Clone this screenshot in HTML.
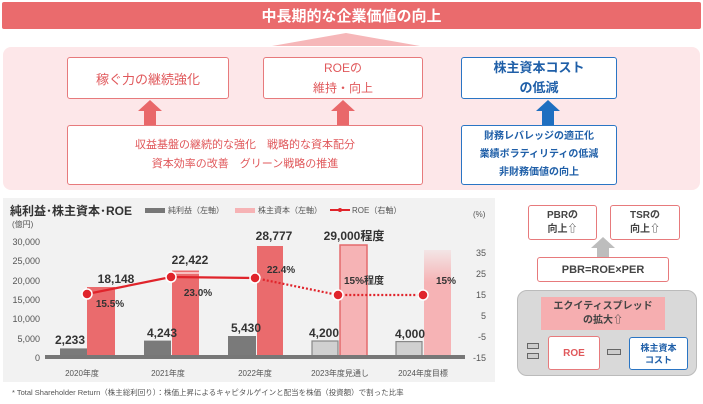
<!DOCTYPE html>
<html><head><meta charset="utf-8"><style>
body{margin:0;width:703px;height:404px;background:#fff;position:relative;overflow:hidden;font-family:"Liberation Sans","Noto Sans CJK JP",sans-serif}
.a{position:absolute;box-sizing:border-box}
.c{display:flex;align-items:center;justify-content:center;text-align:center;flex-direction:column}
.rb{border:1.5px solid #e77a7c;background:#fff;border-radius:3px;color:#e0585b}
.bb{border:1.5px solid #2a75c4;background:#fff;border-radius:3px;color:#1f5fa8;font-weight:bold}
</style></head><body>
<div class="a c" style="left:2px;top:2px;width:699px;height:27px;background:#ea6b6d;color:#fff;font-weight:bold;font-size:15px;border-radius:2px">中長期的な企業価値の向上</div>
<svg class="a" style="left:0;top:0" width="703" height="404">
<polygon points="272,46 346,33 420,46" fill="#f6b7b9"/>
</svg>
<div class="a" style="left:3px;top:47px;width:697px;height:143px;background:#fde7e9;border-radius:8px"></div>
<div class="a c rb" style="left:67px;top:57px;width:162px;height:42px;font-size:13px">稼ぐ力の継続強化</div>
<div class="a c rb" style="left:263px;top:57px;width:160px;height:42px;font-size:12px;line-height:20px">ROEの<br>維持・向上</div>
<div class="a c bb" style="left:461px;top:57px;width:156px;height:42px;font-size:13px;line-height:20px">株主資本コスト<br>の低減</div>
<svg class="a" style="left:0;top:0" width="703" height="404">
<polygon points="144,125 144,111 138,111 150,100 162,111 156,111 156,125" fill="#e9686a"/>
<polygon points="337,125 337,111 331,111 343,100 355,111 349,111 349,125" fill="#e9686a"/>
<polygon points="542,125 542,111 536,111 548,100 560,111 554,111 554,125" fill="#1f6fc0"/>
</svg>
<div class="a c rb" style="left:67px;top:125px;width:356px;height:60px;font-size:11px;line-height:19px">収益基盤の継続的な強化　戦略的な資本配分<br>資本効率の改善　グリーン戦略の推進</div>
<div class="a c bb" style="left:461px;top:125px;width:156px;height:60px;font-size:10px;line-height:18px">財務レバレッジの適正化<br>業績ボラティリティの低減<br>非財務価値の向上</div>

<div class="a" style="left:3px;top:198px;width:492px;height:184px;background:#f2f2f2"></div>
<svg class="a" style="left:0;top:0" width="703" height="404" font-family="Liberation Sans,Noto Sans CJK JP,sans-serif">
<defs><linearGradient id="g" x1="0" y1="0" x2="0" y2="1"><stop offset="0" stop-color="#f6b3b5" stop-opacity="0.2"/><stop offset="0.3" stop-color="#f6b3b5"/><stop offset="1" stop-color="#f6b3b5"/></linearGradient></defs>
<text x="10" y="215" font-size="12" font-weight="bold" fill="#333">純利益･株主資本･ROE</text>
<text x="12" y="227" font-size="8" fill="#555">(億円)</text>
<text x="473" y="217" font-size="8" fill="#555">(%)</text>
<rect x="145" y="208" width="20" height="5" fill="#777"/><text x="168" y="213" font-size="8" fill="#555">純利益（左軸）</text>
<rect x="235" y="208" width="20" height="5" fill="#f6b3b5"/><text x="258" y="213" font-size="8" fill="#555">株主資本（左軸）</text>
<line x1="330" y1="210" x2="350" y2="210" stroke="#e0242b" stroke-width="2"/><circle cx="340" cy="210" r="2" fill="#e0242b"/><text x="352" y="213" font-size="8" fill="#555">ROE（右軸）</text>
<g font-size="9" fill="#555" text-anchor="end">
<text x="40" y="245">30,000</text><text x="40" y="264">25,000</text><text x="40" y="284">20,000</text><text x="40" y="303">15,000</text><text x="40" y="322">10,000</text><text x="40" y="342">5,000</text><text x="40" y="361">0</text></g>
<g font-size="9" fill="#555" text-anchor="end">
<text x="486" y="256">35</text><text x="486" y="277">25</text><text x="486" y="298">15</text><text x="486" y="319">5</text><text x="486" y="340">-5</text><text x="486" y="361">-15</text></g>
<rect x="60" y="348.4" width="27" height="8.6" fill="#7a7a7a"/>
<rect x="87" y="287" width="28" height="70" fill="#ea6b6d"/>
<rect x="144" y="340.6" width="27" height="16.4" fill="#7a7a7a"/>
<rect x="172" y="270.5" width="27" height="86.5" fill="#ea6b6d"/>
<rect x="172" y="272" width="27" height="2" fill="#f8c0c0"/>
<rect x="228" y="336" width="28" height="21" fill="#7a7a7a"/>
<rect x="257" y="246" width="26" height="111" fill="#ea6b6d"/>
<rect x="312" y="341" width="26" height="16" fill="#d0d0d0" stroke="#888" stroke-width="1.2"/>
<rect x="340" y="245" width="27" height="112" fill="#f6b3b5" stroke="#e46b6d" stroke-width="1.5"/>
<rect x="396" y="341.6" width="26" height="15.4" fill="#d0d0d0" stroke="#888" stroke-width="1.2"/>
<rect x="424" y="250" width="27" height="107" fill="url(#g)"/>
<rect x="45" y="355" width="420" height="4" fill="#777"/>
<polyline points="87,294 171,277 255,278" fill="none" stroke="#e0242b" stroke-width="2.2"/>
<polyline points="255,278 338,295 423,295" fill="none" stroke="#e0242b" stroke-width="2.2" stroke-dasharray="2,2"/>
<g fill="#e0242b" stroke="#fff" stroke-width="1.5"><circle cx="87" cy="294" r="5"/><circle cx="171" cy="277" r="5"/><circle cx="255" cy="278" r="5"/><circle cx="338" cy="295" r="5"/><circle cx="423" cy="295" r="5"/></g>
<g font-size="12" font-weight="bold" fill="#333" text-anchor="middle">
<text x="70" y="344">2,233</text><text x="116" y="283">18,148</text><text x="162" y="337">4,243</text><text x="190" y="264">22,422</text>
<text x="246" y="332">5,430</text><text x="274" y="240">28,777</text><text x="324" y="337">4,200</text><text x="354" y="240">29,000程度</text><text x="410" y="338">4,000</text></g>
<g font-size="10" font-weight="bold" fill="#333" text-anchor="middle">
<text x="110" y="307">15.5%</text><text x="198" y="296">23.0%</text><text x="281" y="273">22.4%</text><text x="364" y="284">15%程度</text><text x="446" y="284">15%</text></g>
<g font-size="8" fill="#555" text-anchor="middle">
<text x="82" y="376">2020年度</text><text x="168" y="376">2021年度</text><text x="255" y="376">2022年度</text><text x="340" y="376">2023年度見通し</text><text x="423" y="376">2024年度目標</text></g>
<text x="12" y="395" font-size="7.5" fill="#555">* Total Shareholder Return（株主総利回り）：株価上昇によるキャピタルゲインと配当を株価（投資額）で割った比率</text>
<polygon points="597,257 597,248 591,248 603,237 615,248 609,248 609,257" fill="#bdbdbd"/>
</svg>
<div class="a c rb" style="left:528px;top:205px;width:69px;height:35px;font-size:10px;font-weight:bold;color:#444;line-height:14px">PBRの<br>向上⇧</div>
<div class="a c rb" style="left:610px;top:205px;width:70px;height:35px;font-size:10px;font-weight:bold;color:#444;line-height:14px">TSRの<br>向上⇧</div>
<div class="a c rb" style="left:537px;top:257px;width:132px;height:25px;font-size:11px;font-weight:bold;color:#444">PBR=ROE×PER</div>
<div class="a" style="left:517px;top:290px;width:180px;height:86px;background:#d9d9d9;border:1px solid #bbb;border-radius:10px"></div>
<div class="a c" style="left:541px;top:297px;width:124px;height:33px;background:#f6aeb0;font-size:10px;font-weight:bold;color:#444;line-height:14px">エクイティスプレッド<br>の拡大⇧</div>
<div class="a c rb" style="left:548px;top:336px;width:52px;height:34px;font-size:10px;font-weight:bold">ROE</div>
<div class="a c bb" style="left:629px;top:337px;width:59px;height:33px;font-size:9px;line-height:12px">株主資本<br>コスト</div>
<div class="a" style="left:527px;top:343px;width:12px;height:6px;background:#ccc;border:1px solid #666"></div>
<div class="a" style="left:527px;top:353px;width:12px;height:6px;background:#ccc;border:1px solid #666"></div>
<div class="a" style="left:607px;top:349px;width:14px;height:6px;background:#ccc;border:1px solid #666"></div>
</body></html>
